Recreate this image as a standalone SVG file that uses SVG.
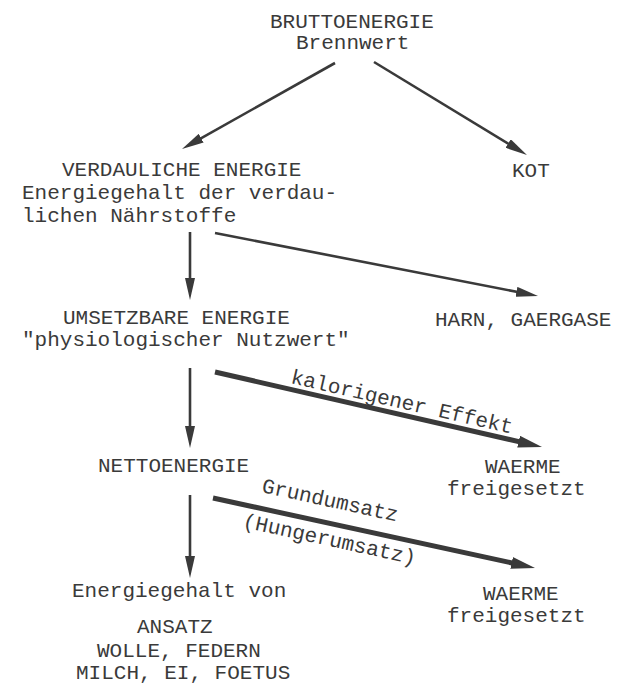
<svg xmlns="http://www.w3.org/2000/svg" width="617" height="684" viewBox="0 0 617 684">
<style>
text{font-family:"Liberation Mono","Courier New","DejaVu Sans Mono",monospace;font-size:21px;fill:#3a3a3a}
.thin{stroke:#3a3a3a;stroke-width:2.6;fill:none;marker-end:url(#ah)}
.thick{stroke:#3a3a3a;stroke-width:5;fill:none;marker-end:url(#ahb)}
</style>
<defs>
<marker id="ah" markerUnits="userSpaceOnUse" markerWidth="22" markerHeight="10" refX="8" refY="5" orient="auto"><path d="M0,0 L22,5 L0,10 z" fill="#3a3a3a"/></marker>
<marker id="ahb" markerUnits="userSpaceOnUse" markerWidth="24" markerHeight="12" refX="8" refY="6" orient="auto"><path d="M0,0 L24,6 L0,12 z" fill="#3a3a3a"/></marker>
</defs>
<rect width="617" height="684" fill="#ffffff"/>
<g id="connectors">
<line class="thin" x1="335" y1="63" x2="194.2" y2="142.1"/>
<line class="thin" x1="374" y1="62" x2="515" y2="147.7"/>
<line class="thin" x1="190" y1="232" x2="190" y2="286"/>
<line class="thin" x1="215" y1="233" x2="524.3" y2="293.3"/>
<line class="thin" x1="190" y1="368" x2="190" y2="434"/>
<line class="thick" x1="215" y1="372" x2="526.4" y2="443.4"/>
<line class="thin" x1="190" y1="495" x2="190" y2="564"/>
<line class="thick" x1="213" y1="498" x2="519.4" y2="564.6"/>
<text transform="rotate(12.9 290 383)" x="290" y="383">kalorigener Effekt</text>
<text transform="rotate(12.3 261 492)" x="261" y="492">Grundumsatz</text>
<text transform="rotate(12.3 242 527)" x="242" y="527">(Hungerumsatz)</text>
</g>
<g id="brutto">
<text x="270" y="28">BRUTTOENERGIE</text>
<text x="296" y="49">Brennwert</text>
</g>
<g id="verdaulich">
<text x="62" y="176">VERDAULICHE ENERGIE</text>
<text x="22" y="199">Energiegehalt der verdau-</text>
<text x="22" y="222">lichen Nährstoffe</text>
</g>
<g id="kot"><text x="512" y="177">KOT</text></g>
<g id="umsetzbar">
<text x="63" y="324">UMSETZBARE ENERGIE</text>
<text x="22" y="346">"physiologischer Nutzwert"</text>
</g>
<g id="harn"><text x="435" y="326">HARN, GAERGASE</text></g>
<g id="netto"><text x="98" y="472">NETTOENERGIE</text></g>
<g id="waerme1">
<text x="485" y="473">WAERME</text>
<text x="447" y="495">freigesetzt</text>
</g>
<g id="ansatz">
<text x="72" y="597">Energiegehalt von</text>
<text x="137" y="633">ANSATZ</text>
<text x="97" y="657">WOLLE, FEDERN</text>
<text x="76" y="679">MILCH, EI, FOETUS</text>
</g>
<g id="waerme2">
<text x="483" y="600">WAERME</text>
<text x="447" y="622">freigesetzt</text>
</g>
</svg>
